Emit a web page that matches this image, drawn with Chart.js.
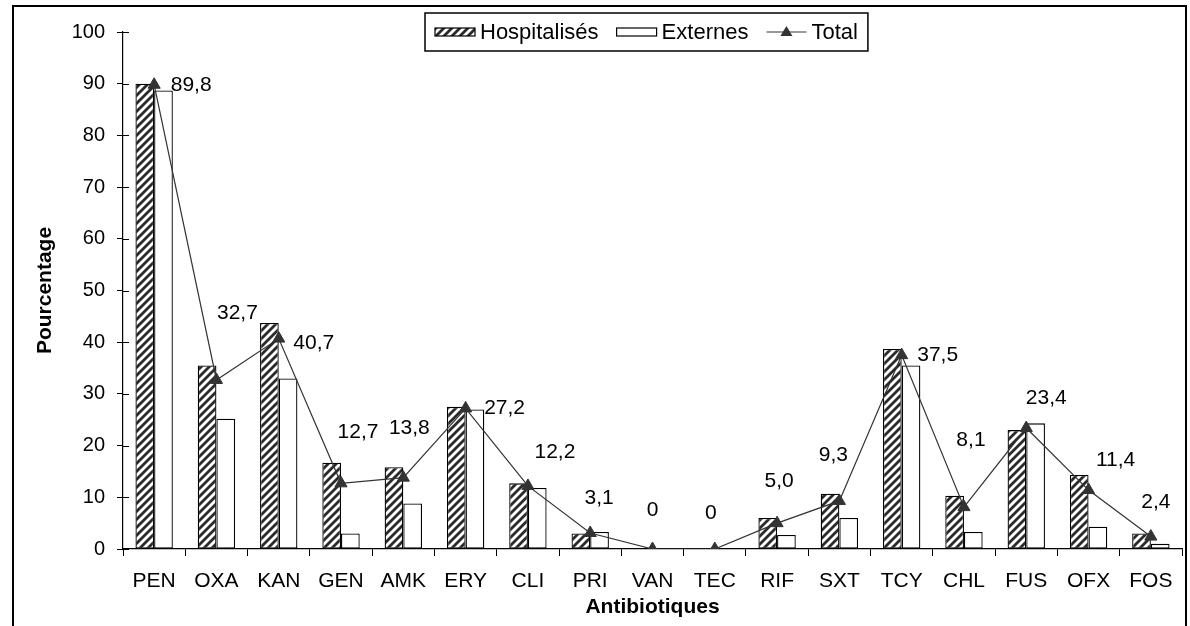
<!DOCTYPE html>
<html>
<head>
<meta charset="utf-8">
<script src="https://cdn.jsdelivr.net/npm/chart.js@4/dist/chart.umd.min.js"></script>
<style>
  html, body { margin: 0; padding: 0; background: #fff; }
  #wrap { position: relative; width: 1190px; height: 626px; overflow: hidden; }
  #frame { position: absolute; left: 12px; top: 5px; width: 1175px; height: 640px; border: 2px solid #000; box-sizing: border-box; pointer-events: none; }
</style>
</head>
<body>
<div id="wrap">
  <canvas id="chart" width="1190" height="626"></canvas>
  <div id="frame"></div>
</div>
<script>
var categories = ['PEN', 'OXA', 'KAN', 'GEN', 'AMK', 'ERY', 'CLI', 'PRI', 'VAN', 'TEC', 'RIF', 'SXT', 'TCY', 'CHL', 'FUS', 'OFX', 'FOS']
var hospitalises = [90, 35.5, 43.7, 16.7, 15.8, 27.5, 12.7, 3.0, 0, 0, 6.0, 10.7, 38.7, 10.3, 23.0, 14.3, 3.0]
var externes = [88.7, 25.2, 33.0, 3.0, 8.8, 27.0, 11.8, 3.3, 0, 0, 2.7, 6.0, 35.5, 3.3, 24.3, 4.3, 1.0]
var total = [89.8, 32.7, 40.7, 12.7, 13.8, 27.2, 12.2, 3.1, 0, 0, 5.0, 9.3, 37.5, 8.1, 23.4, 11.4, 2.4]
var yTicks = [0, 10, 20, 30, 40, 50, 60, 70, 80, 90, 100]

// where each "Total" label sits, relative to its point (px)
var labelOffsets = [[37, 0], [21, -67], [35, 5], [17, -51], [6, -49], [39, 0], [27, -34], [9, -35],
    [0, -39], [-4, -36], [2, -42], [-6, -46], [36, 0], [7, -67], [20, -30], [27, -30], [5, -34]]

var FONT = 'Liberation Sans, Arial, sans-serif'
var FS = 21

function makeHatch() {
    var c = document.createElement('canvas')
    c.width = 8
    c.height = 8
    var g = c.getContext('2d')
    g.fillStyle = '#fff'
    g.fillRect(0, 0, 8, 8)
    g.strokeStyle = '#2a2a2a'
    g.lineWidth = 2.8
    g.beginPath()
    g.moveTo(-2, 10); g.lineTo(10, -2)
    g.moveTo(-2, 2); g.lineTo(2, -2)
    g.moveTo(6, 10); g.lineTo(10, 6)
    g.stroke()
    return g.createPattern(c, 'repeat')
}
var hatch = makeHatch()

function fmt(v) {
    return v === 0 ? '0' : v.toFixed(1).replace('.', ',')
}

var totalLabels = {
    id: 'totalLabels',
    afterDatasetsDraw(chart) {
        var ctx = chart.ctx
        var meta = chart.getDatasetMeta(2)
        ctx.save()
        ctx.font = FS + 'px ' + FONT
        ctx.fillStyle = '#000'
        ctx.textAlign = 'center'
        ctx.textBaseline = 'middle'
        meta.data.forEach(function(pt, i) {
            var off = labelOffsets[i]
            ctx.fillText(fmt(total[i]), pt.x + off[0], pt.y + off[1])
        })
        ctx.restore()
    }
}

// y ticks cross the axis line, as in the original
var innerTicks = {
    id: 'innerTicks',
    afterDraw(chart) {
        var ctx = chart.ctx
        var y = chart.scales.y
        ctx.save()
        ctx.strokeStyle = '#000'
        ctx.lineWidth = 1
        yTicks.forEach(function(v) {
            var py = Math.round(y.getPixelForValue(v)) + 0.5
            ctx.beginPath()
            ctx.moveTo(y.right, py)
            ctx.lineTo(y.right + 6, py)
            ctx.stroke()
        })
        ctx.restore()
    }
}

var boxLegend = {
    id: 'boxLegend',
    afterDraw(chart) {
        var ctx = chart.ctx
        ctx.save()
        ctx.font = '22px ' + FONT
        var names = ['Hospitalisés', 'Externes', 'Total']
        var w = names.map(function(n) { return ctx.measureText(n).width })
        var sw = 40, gap = 5, sep = 18, pad = 10
        var inner = sw + gap + w[0] + sep + sw + gap + w[1] + sep + sw + gap + w[2]
        var bw = inner + 2 * pad, bh = 38
        var bx = Math.round(646 - bw / 2), by = 13
        ctx.fillStyle = '#fff'
        ctx.fillRect(bx, by, bw, bh)
        ctx.strokeStyle = '#000'
        ctx.lineWidth = 1.5
        ctx.strokeRect(bx, by, bw, bh)
        var cy = by + bh / 2
        var x = bx + pad
        ctx.fillStyle = hatch
        ctx.fillRect(x, cy - 4, sw, 8)
        ctx.lineWidth = 1.2
        ctx.strokeRect(x, cy - 4, sw, 8)
        x += sw + gap
        ctx.fillStyle = '#000'
        ctx.textBaseline = 'middle'
        ctx.fillText(names[0], x, cy + 1)
        x += w[0] + sep
        ctx.fillStyle = '#fff'
        ctx.fillRect(x, cy - 4, sw, 8)
        ctx.strokeRect(x, cy - 4, sw, 8)
        x += sw + gap
        ctx.fillStyle = '#000'
        ctx.fillText(names[1], x, cy + 1)
        x += w[1] + sep
        ctx.strokeStyle = '#333'
        ctx.lineWidth = 1.2
        ctx.beginPath()
        ctx.moveTo(x, cy); ctx.lineTo(x + sw, cy)
        ctx.stroke()
        ctx.fillStyle = '#333'
        ctx.beginPath()
        ctx.moveTo(x + sw / 2, cy - 6)
        ctx.lineTo(x + sw / 2 + 6, cy + 4)
        ctx.lineTo(x + sw / 2 - 6, cy + 4)
        ctx.closePath()
        ctx.fill()
        x += sw + gap
        ctx.fillStyle = '#000'
        ctx.fillText(names[2], x, cy + 1)
        ctx.restore()
    }
}

var el = document.getElementById('chart')
var chart = new Chart(el, {
    type: 'bar',
    data: {
        labels: categories,
        datasets: [
            {
                label: 'Hospitalisés',
                data: hospitalises,
                backgroundColor: hatch,
                borderColor: '#000',
                borderWidth: 1.3,
                borderSkipped: false,
                categoryPercentage: 0.6,
                barPercentage: 1,
                order: 2
            },
            {
                label: 'Externes',
                data: externes,
                backgroundColor: '#fff',
                borderColor: '#000',
                borderWidth: 1.3,
                borderSkipped: false,
                categoryPercentage: 0.6,
                barPercentage: 1,
                order: 2
            },
            {
                type: 'line',
                label: 'Total',
                data: total,
                borderColor: '#333',
                borderWidth: 1.2,
                pointStyle: 'triangle',
                pointRadius: 7,
                pointBackgroundColor: '#333',
                pointBorderColor: '#333',
                pointBorderWidth: 1,
                tension: 0,
                order: 1
            }
        ]
    },
    options: {
        responsive: false,
        animation: false,
        layout: { padding: { left: 28, right: 6, top: 32, bottom: 6 } },
        plugins: {
            legend: { display: false },
            tooltip: { enabled: false }
        },
        scales: {
            x: {
                afterFit(scale) { scale.height = 71 },
                grid: { display: true, drawOnChartArea: false, drawTicks: true, tickLength: 7, color: '#000', offset: true },
                border: { color: '#000', width: 1.2 },
                ticks: { color: '#000', font: { family: FONT, size: FS }, padding: 13, autoSkip: false, maxRotation: 0 },
                title: { display: true, text: 'Antibiotiques', color: '#000', font: { family: FONT, size: FS, weight: 'bold' }, padding: { top: 0, bottom: 0 } }
            },
            y: {
                min: 0,
                max: 100,
                afterFit(scale) { scale.width = 95 },
                afterBuildTicks(scale) {
                    scale.ticks = yTicks.map(function(v) { return { value: v } })
                },
                grid: { display: true, drawOnChartArea: false, drawTicks: true, tickLength: 6, color: '#000' },
                border: { color: '#000', width: 1.2 },
                ticks: { color: '#000', font: { family: FONT, size: 20 }, padding: 12 },
                title: { display: true, text: 'Pourcentage', color: '#000', font: { family: FONT, size: FS, weight: 'bold' }, padding: { top: 5, bottom: 14 } }
            }
        }
    },
    plugins: [totalLabels, innerTicks, boxLegend]
})
</script>
</body>
</html>
